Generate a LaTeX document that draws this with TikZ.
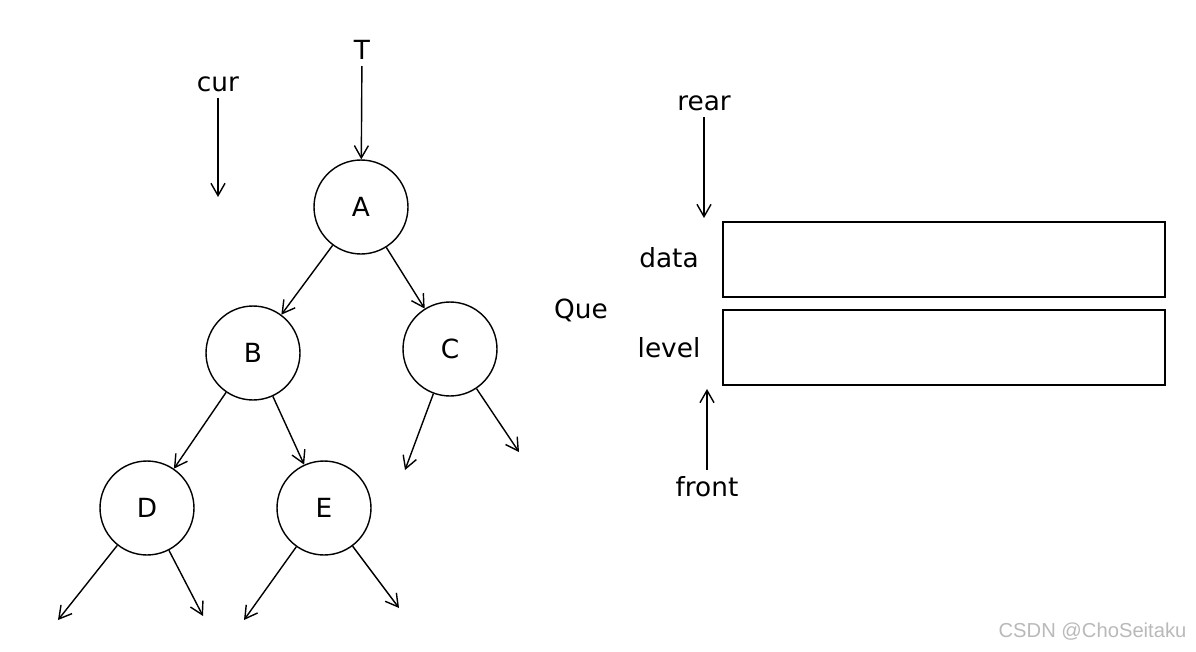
\documentclass[tikz,border=0pt]{standalone}
\usepackage{fontspec}
\setmainfont{DejaVu Sans}
\newfontfamily\credfont{Liberation Sans}
\usetikzlibrary{arrows.meta}
\begin{document}
\begin{tikzpicture}[x=0.02cm,y=-0.02cm,line width=0.8pt,
            >={Straight Barb[length=7pt,width=8pt]},
            font=\fontsize{15}{17}\selectfont,
            treenode/.style={draw,circle,minimum size=1.88cm,inner sep=0pt},
            field/.style={draw,minimum width=8.84cm,minimum height=1.5cm,inner sep=0pt}]
            \useasboundingbox (0,0) rectangle (1196,652);
            % tree
            \node[treenode] (A) at (361,207) {A};
            \node[treenode] (B) at (253,353) {B};
            \node[treenode] (C) at (450,349) {C};
            \node[treenode] (D) at (147,508) {D};
            \node[treenode] (E) at (324,508) {E};
            \foreach \p/\q in {A/B,A/C,B/D,B/E}\draw[->] (\p)--(\q);
            % empty children
            \coordinate (Cl) at (405,470);
            \coordinate (Cr) at (519,452);
            \coordinate (Dl) at (58,620);
            \coordinate (Dr) at (203,616);
            \coordinate (El) at (244,620);
            \coordinate (Er) at (399,608);
            \foreach \p/\q in {C/Cl,C/Cr,D/Dl,D/Dr,E/El,E/Er}\draw[->] (\p)--(\q);
            % pointers
            \node (T) at (362,50) {T};
            \draw[->] (T)--(A);
            \node (cur) at (218,84) {cur};
            \coordinate (curend) at (218,197);
            \draw[->] (cur)--(curend);
            % queue
            \node[field] (data) at (944,259.5) {};
            \node[field] (level) at (944,347.5) {};
            \node (datalbl) at (669,258) {data};
            \node (levellbl) at (669,348) {level};
            \node (que) at (581,310) {Que};
            \node (rear) at (704,103) {rear};
            \coordinate (rearend) at (704,218);
            \draw[->] (rear)--(rearend);
            \node (front) at (707,487) {front};
            \coordinate (frontend) at (707,389);
            \draw[->] (front)--(frontend);
            \node[anchor=east,text=gray!55,font=\credfont\fontsize{11.5}{13}\selectfont] (credit) at (1193,632) {CSDN @ChoSeitaku};
        \end{tikzpicture}
\end{document}
